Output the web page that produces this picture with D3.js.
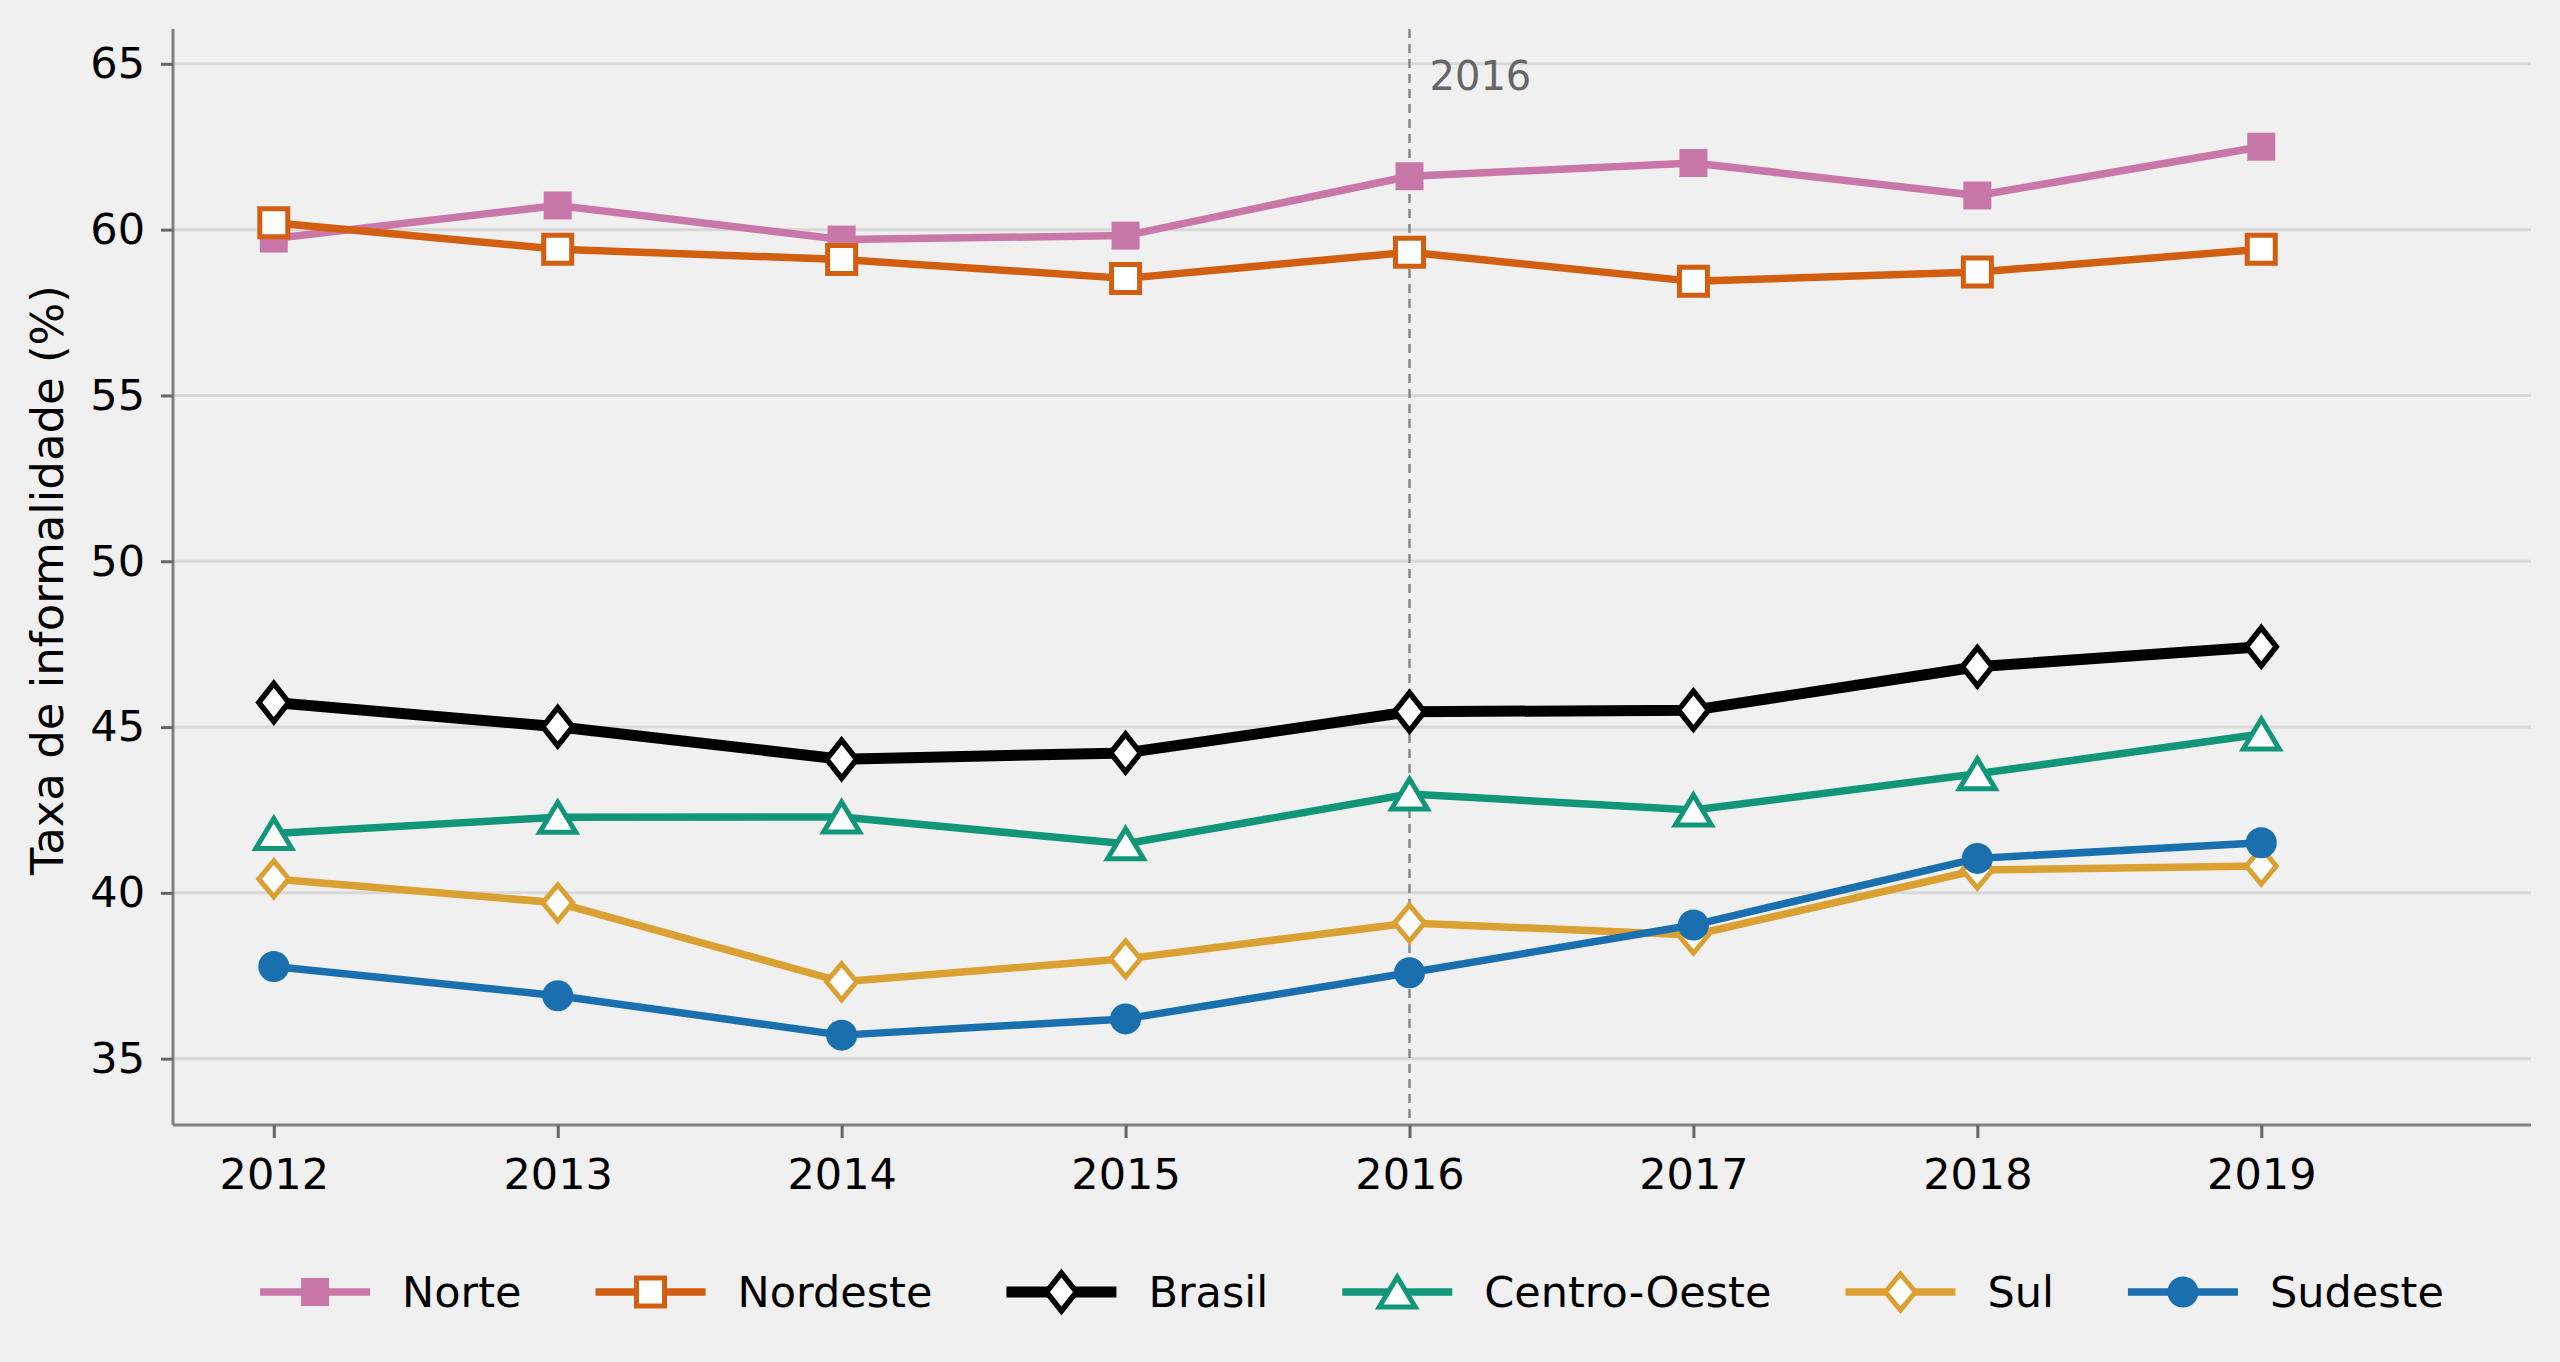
<!DOCTYPE html>
<html>
<head>
<meta charset="utf-8">
<script src="https://cdn.jsdelivr.net/npm/d3@7"></script>
<style>
  body { margin: 0; background: #f0f0f0; }
  svg { display: block; font-family: "DejaVu Sans", sans-serif; }
</style>
</head>
<body>
<div id="chart"></div>
<script>
const years = [2012, 2013, 2014, 2015, 2016, 2017, 2018, 2019];
const yTicks = [35, 40, 45, 50, 55, 60, 65];
const norte = [59.73, 60.73, 59.70, 59.82, 61.61, 62.01, 61.03, 62.50];
const nordeste = [60.21, 59.41, 59.10, 58.53, 59.32, 58.44, 58.72, 59.41];
const brasil = [45.74, 45.01, 44.03, 44.22, 45.46, 45.51, 46.82, 47.42];
const centroOeste = [41.79, 42.28, 42.29, 41.48, 42.98, 42.50, 43.59, 44.79];
const sul = [40.42, 39.70, 37.32, 38.01, 39.09, 38.73, 40.69, 40.81];
const sudeste = [37.78, 36.90, 35.71, 36.20, 37.59, 39.03, 41.04, 41.51];
const markYear = 2016;

document.addEventListener("DOMContentLoaded", function () {
  const W = 2560, H = 1362;
  const margin = { top: 29, right: 29, bottom: 237, left: 173 };
  const width = W - margin.left - margin.right;
  const height = H - margin.top - margin.bottom;

  const series = [
    { name: "Norte", values: norte, color: "#C977A8", marker: "square", fill: "#C977A8", lw: 7.5 },
    { name: "Nordeste", values: nordeste, color: "#D25E12", marker: "square", fill: "#ffffff", lw: 7.5 },
    { name: "Brasil", values: brasil, color: "#000000", marker: "thinDiamond", fill: "#ffffff", lw: 11 },
    { name: "Centro-Oeste", values: centroOeste, color: "#12967A", marker: "triangle", fill: "#ffffff", lw: 7.5 },
    { name: "Sul", values: sul, color: "#DBA032", marker: "diamond", fill: "#ffffff", lw: 7.5 },
    { name: "Sudeste", values: sudeste, color: "#1A6FAF", marker: "circle", fill: "#1A6FAF", lw: 7.5 }
  ];

  // marker shapes (matplotlib-like)
  function markerPath(type) {
    switch (type) {
      case "square": return "M-14,-14H14V14H-14Z";
      case "thinDiamond": return "M0,-19L15,0L0,19L-15,0Z";
      case "diamond": return "M0,-18L15,0L0,18L-15,0Z";
      case "triangle": return "M0,-15L18,15L-18,15Z";
      case "circle": return d3.arc()({ innerRadius: 0, outerRadius: 15.5, startAngle: 0, endAngle: 2 * Math.PI });
    }
  }
  const markerStroke = s => s.fill === s.color ? 0 : (s.marker === "thinDiamond" ? 5.5 : 5);

  const x = d3.scaleLinear().domain([2011.645, 2019.95]).range([0, width]);
  const y = d3.scaleLinear().domain([33, 66.05]).range([height, 0]);

  const svg = d3.select("#chart").append("svg")
    .attr("width", W).attr("height", H);

  svg.append("rect").attr("width", W).attr("height", H).attr("fill", "#f0f0f0");

  const g = svg.append("g").attr("transform", `translate(${margin.left},${margin.top})`);

  // grid
  g.append("g").selectAll("line").data(yTicks).join("line")
    .attr("x1", 0).attr("x2", width)
    .attr("y1", d => y(d)).attr("y2", d => y(d))
    .attr("stroke", "#d8d8d8").attr("stroke-width", 3);

  // reference line
  g.append("line")
    .attr("x1", x(markYear)).attr("x2", x(markYear))
    .attr("y1", 0).attr("y2", height)
    .attr("stroke", "#888").attr("stroke-width", 2.5)
    .attr("stroke-dasharray", "9,6");
  g.append("text")
    .attr("x", x(markYear) + 20).attr("y", 61)
    .attr("font-size", 40).attr("fill", "#666")
    .text(markYear);

  // axes
  const xAxis = g.append("g").attr("transform", `translate(0,${height})`)
    .call(d3.axisBottom(x).tickValues(years).tickFormat(d3.format("d")).tickSize(13).tickPadding(20));
  const yAxis = g.append("g")
    .call(d3.axisLeft(y).tickValues(yTicks).tickSize(12).tickPadding(16));
  [xAxis, yAxis].forEach(a => {
    a.select(".domain").attr("stroke", "#808080").attr("stroke-width", 3);
    a.selectAll(".tick line").attr("stroke", "#666").attr("stroke-width", 3);
    a.selectAll(".tick text").attr("font-size", 43).attr("fill", "#000").attr("font-family", "DejaVu Sans");
  });
  xAxis.select(".domain").attr("d", `M0,0H${width}`);
  yAxis.select(".domain").attr("d", `M0,0V${height}`);

  svg.append("text")
    .attr("transform", `translate(47,${margin.top + height / 2 + 3}) rotate(-90)`)
    .attr("text-anchor", "middle").attr("dominant-baseline", "central")
    .attr("font-size", 45).attr("fill", "#000")
    .text("Taxa de informalidade (%)");

  const line = d3.line().x((d, i) => x(years[i])).y(d => y(d));

  series.forEach(s => {
    const sg = g.append("g");
    sg.append("path").datum(s.values)
      .attr("d", line).attr("fill", "none")
      .attr("stroke", s.color).attr("stroke-width", s.lw)
      .attr("stroke-linejoin", "round");
    sg.selectAll("path.m").data(s.values).join("path")
      .attr("class", "m")
      .attr("d", markerPath(s.marker))
      .attr("transform", (d, i) => `translate(${x(years[i])},${y(d)})`)
      .attr("fill", s.fill)
      .attr("stroke", s.color)
      .attr("stroke-width", markerStroke(s))
      .attr("stroke-linejoin", "miter");
  });

  // legend
  const legend = svg.append("g");
  const legY = 1292;
  let cx = 0;
  series.forEach(s => {
    const it = legend.append("g");
    it.append("line").attr("x1", 0).attr("x2", 110).attr("y1", 0).attr("y2", 0)
      .attr("stroke", s.color).attr("stroke-width", s.lw);
    it.append("path").attr("d", markerPath(s.marker))
      .attr("transform", "translate(55,0)")
      .attr("fill", s.fill).attr("stroke", s.color)
      .attr("stroke-width", markerStroke(s));
    const t = it.append("text").attr("x", 142).attr("y", 0)
      .attr("dominant-baseline", "central")
      .attr("font-size", 43).attr("fill", "#000").text(s.name);
    const w = 142 + t.node().getComputedTextLength();
    it.attr("transform", `translate(${cx},${legY})`);
    cx += w + 74;
  });
  const total = cx - 74;
  legend.attr("transform", `translate(${margin.left + width / 2 - total / 2},0)`);
});
</script>
</body>
</html>
